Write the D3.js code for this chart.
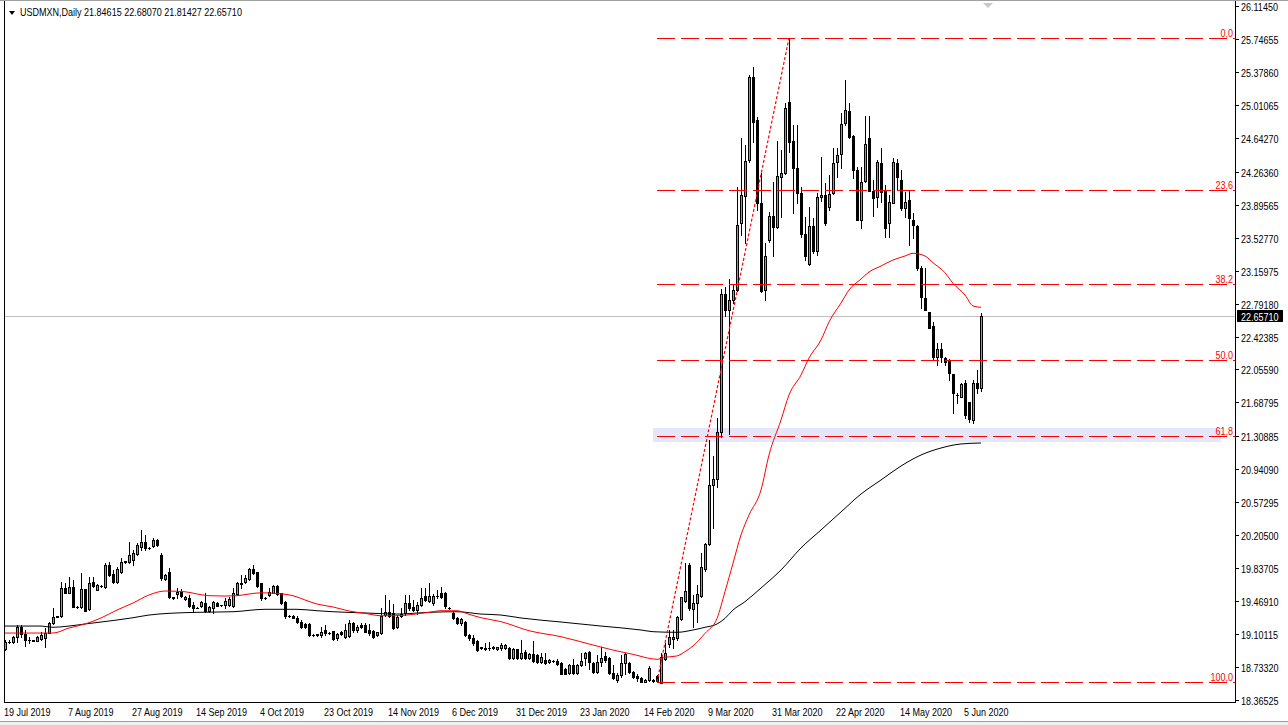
<!DOCTYPE html>
<html><head><meta charset="utf-8">
<script src="https://cdn.jsdelivr.net/npm/d3@7"></script>
<style>
html,body{margin:0;padding:0;background:#fff;}
svg{display:block;}
text{font-family:"Liberation Sans",Arial,sans-serif;}
</style></head><body>
<svg id="c" width="1288" height="725"></svg>
<script>
const symbolName = "USDMXN,Daily";
const headerValues = ["21.84615","22.68070","21.81427","22.65710"];

const opens = [
18.931,19.016,19.016,19.065,19.177,19.098,19.035,19.030,19.028,19.042,
19.054,19.117,19.221,19.296,19.303,19.612,19.564,19.631,19.400,19.400,
19.605,19.377,19.679,19.593,19.640,19.630,19.872,19.772,19.679,19.800,
19.910,19.910,19.928,19.990,20.077,20.133,20.059,20.085,20.152,19.984,
19.712,19.800,19.510,19.545,19.567,19.489,19.508,19.426,19.396,19.418,
19.452,19.362,19.396,19.452,19.426,19.426,19.426,19.418,19.545,19.675,
19.686,19.716,19.828,19.790,19.668,19.500,19.537,19.563,19.638,19.556,
19.463,19.303,19.303,19.277,19.240,19.210,19.210,19.091,19.098,19.091,
19.147,19.110,19.135,19.054,19.128,19.072,19.084,19.221,19.147,19.203,
19.203,19.147,19.135,19.091,19.110,19.314,19.344,19.333,19.184,19.300,
19.333,19.445,19.400,19.370,19.426,19.530,19.471,19.445,19.530,19.556,
19.556,19.389,19.340,19.285,19.229,19.240,19.091,19.054,19.024,18.950,
18.950,18.942,18.961,18.935,18.942,18.950,18.950,18.830,18.930,18.830,
18.900,18.830,18.880,18.870,18.790,18.810,18.787,18.800,18.805,18.780,
18.710,18.670,18.757,18.670,18.757,18.830,18.905,18.782,18.682,18.793,
18.857,18.830,18.663,18.590,18.645,18.775,18.775,18.680,18.630,18.607,
18.570,18.590,18.590,18.633,18.559,18.819,18.987,19.050,19.054,19.266,
19.474,19.873,19.378,19.445,19.527,19.824,20.107,20.766,20.829,21.361,
22.900,22.720,22.832,22.943,23.688,23.996,24.395,25.325,24.840,23.918,
22.943,23.502,23.770,23.650,24.209,24.246,25.046,24.610,24.309,24.030,
23.569,23.230,23.658,23.383,23.978,24.004,23.874,24.030,24.376,24.462,
24.804,24.942,24.663,24.283,23.725,24.164,24.641,24.053,23.978,24.358,
24.049,23.688,23.919,24.365,24.172,23.855,23.950,23.725,23.658,23.185,
22.850,22.694,22.541,22.199,22.281,22.180,22.162,22.005,21.770,21.745,
21.901,21.696,21.492,21.909,21.846];

const highs = [
19.035,19.030,19.080,19.203,19.203,19.147,19.072,19.040,19.080,19.128,
19.165,19.240,19.389,19.300,19.686,19.668,19.742,19.705,19.410,19.780,
19.610,19.742,19.742,19.660,19.650,19.899,19.910,19.817,19.854,19.947,
19.920,20.133,20.040,20.114,20.263,20.207,20.070,20.170,20.160,20.003,
19.770,19.840,19.520,19.612,19.600,19.530,19.537,19.463,19.400,19.470,
19.556,19.420,19.470,19.460,19.430,19.500,19.510,19.612,19.686,19.761,
19.761,19.843,19.872,19.800,19.668,19.510,19.612,19.649,19.649,19.560,
19.470,19.310,19.310,19.300,19.258,19.220,19.221,19.100,19.105,19.184,
19.202,19.120,19.140,19.110,19.140,19.210,19.258,19.240,19.200,19.220,
19.220,19.210,19.150,19.130,19.389,19.538,19.482,19.433,19.310,19.389,
19.538,19.538,19.482,19.463,19.612,19.612,19.668,19.545,19.593,19.631,
19.575,19.400,19.350,19.290,19.285,19.250,19.100,19.091,19.030,18.960,
18.998,19.017,18.970,18.960,18.998,18.990,18.960,18.950,18.940,19.030,
18.920,18.890,19.020,18.880,18.886,18.886,18.820,18.810,18.820,18.785,
18.720,18.770,18.820,18.770,18.886,18.905,18.917,18.790,18.868,18.953,
18.905,18.849,18.756,18.663,18.868,18.895,18.790,18.690,18.660,18.620,
18.600,18.750,18.600,18.644,18.886,18.998,19.147,19.147,19.303,19.519,
19.899,19.899,19.538,19.650,20.003,20.122,21.268,21.090,21.510,22.950,
22.980,23.070,23.000,24.097,24.637,24.562,25.344,25.437,24.879,24.246,
23.464,23.818,24.153,24.610,24.507,25.035,25.757,24.786,24.786,24.097,
23.762,23.874,23.743,24.030,24.432,24.134,24.227,24.525,24.525,24.916,
25.288,25.028,24.674,24.321,24.321,24.886,24.886,24.172,24.395,24.533,
24.116,24.004,24.414,24.403,24.283,24.041,24.060,23.800,23.669,23.211,
23.185,22.694,22.590,22.348,22.348,22.199,22.170,22.005,21.790,21.900,
21.938,21.696,21.938,22.050,22.681];

const lows = [
18.923,19.000,19.000,19.016,19.072,18.968,19.005,19.020,19.020,19.035,
18.953,19.110,19.214,19.290,19.296,19.556,19.556,19.400,19.390,19.389,
19.360,19.370,19.630,19.590,19.630,19.612,19.753,19.668,19.668,19.780,
19.900,19.891,19.872,19.984,20.040,20.040,20.050,20.077,20.090,19.705,
19.700,19.500,19.490,19.500,19.520,19.480,19.407,19.351,19.390,19.407,
19.344,19.350,19.333,19.410,19.420,19.388,19.420,19.407,19.537,19.612,
19.668,19.705,19.768,19.630,19.480,19.490,19.530,19.556,19.537,19.440,
19.277,19.295,19.280,19.221,19.173,19.170,19.083,19.085,19.085,19.072,
19.091,19.100,19.030,19.040,19.090,19.061,19.072,19.120,19.120,19.170,
19.120,19.090,19.060,19.080,19.098,19.300,19.296,19.158,19.170,19.296,
19.314,19.370,19.359,19.322,19.418,19.471,19.463,19.430,19.500,19.500,
19.396,19.380,19.270,19.210,19.203,19.080,19.040,18.980,18.910,18.940,
18.924,18.924,18.930,18.925,18.924,18.940,18.820,18.820,18.820,18.820,
18.820,18.820,18.790,18.780,18.775,18.770,18.780,18.790,18.760,18.650,
18.650,18.660,18.655,18.660,18.745,18.757,18.708,18.670,18.670,18.745,
18.793,18.656,18.596,18.570,18.626,18.660,18.670,18.610,18.580,18.566,
18.566,18.575,18.566,18.566,18.566,18.810,18.961,18.942,19.035,19.258,
19.463,19.370,19.184,19.240,19.519,19.809,20.096,20.282,20.740,21.300,
22.650,21.330,22.800,22.930,23.557,23.464,24.376,24.600,23.837,22.925,
22.832,23.483,23.323,23.640,23.762,24.238,24.488,23.800,23.910,23.539,
23.278,23.222,23.353,23.334,23.940,23.669,23.836,24.015,24.209,24.302,
24.786,24.637,24.190,23.725,23.632,24.153,24.053,23.773,23.874,23.930,
23.539,23.539,23.911,24.060,23.837,23.762,23.446,23.520,23.167,22.739,
22.720,22.515,22.162,22.106,22.143,22.106,21.938,21.566,21.678,21.745,
21.510,21.473,21.462,21.790,21.814];

const closes = [
19.016,19.012,19.072,19.177,19.098,19.035,19.030,19.028,19.072,19.091,
19.117,19.221,19.296,19.298,19.612,19.564,19.623,19.400,19.402,19.605,
19.363,19.668,19.638,19.649,19.642,19.872,19.761,19.686,19.824,19.910,
19.912,19.984,20.003,20.096,20.133,20.059,20.061,20.152,20.100,19.724,
19.761,19.510,19.500,19.575,19.530,19.519,19.418,19.388,19.394,19.455,
19.359,19.407,19.463,19.418,19.424,19.470,19.493,19.556,19.675,19.656,
19.731,19.828,19.779,19.638,19.500,19.502,19.567,19.638,19.545,19.444,
19.303,19.301,19.284,19.240,19.184,19.176,19.091,19.093,19.091,19.128,
19.110,19.112,19.042,19.098,19.098,19.147,19.221,19.150,19.184,19.184,
19.128,19.110,19.072,19.121,19.307,19.344,19.307,19.165,19.296,19.325,
19.445,19.389,19.370,19.426,19.508,19.482,19.530,19.530,19.532,19.519,
19.415,19.387,19.277,19.221,19.266,19.091,19.054,18.998,18.924,18.952,
18.935,18.944,18.942,18.955,18.980,18.975,18.830,18.930,18.830,18.890,
18.830,18.880,18.800,18.790,18.840,18.775,18.812,18.802,18.770,18.660,
18.660,18.757,18.663,18.757,18.800,18.886,18.793,18.682,18.793,18.830,
18.812,18.663,18.607,18.645,18.775,18.880,18.680,18.626,18.607,18.570,
18.590,18.720,18.575,18.575,18.849,18.886,19.072,19.072,19.288,19.512,
19.586,19.389,19.452,19.545,19.854,20.107,20.766,20.829,21.361,22.900,
22.720,22.832,22.943,23.670,24.004,24.384,25.325,24.823,23.910,22.936,
23.323,23.770,23.650,24.220,24.253,24.979,24.600,24.302,24.023,23.569,
23.327,23.662,23.383,23.985,24.004,23.688,24.015,24.358,24.451,24.797,
24.953,24.656,24.283,23.725,24.153,24.574,24.053,23.967,24.373,24.041,
23.640,23.930,24.373,24.202,23.855,23.930,23.743,23.669,23.185,22.869,
22.720,22.523,22.199,22.281,22.191,22.143,22.020,21.790,21.770,21.894,
21.548,21.499,21.901,21.846,22.657];

// moving averages: [bar index, price]
const maRed = [[0,19.113],[12,19.113],[16,19.169],[20,19.214],[24,19.281],[28,19.37],[32,19.448],[36,19.538],[40,19.582],[45,19.574],[48,19.549],[51,19.53],[55,19.526],[58,19.53],[61,19.549],[64,19.562],[67,19.557],[72,19.53],[75,19.482],[78,19.437],[82,19.404],[86,19.359],[90,19.333],[94,19.306],[98,19.306],[102,19.322],[106,19.344],[109,19.362],[113,19.362],[116,19.322],[119,19.284],[124,19.24],[131,19.139],[139,19.072],[147,18.979],[152,18.923],[157,18.875],[163,18.82],[165,18.842],[168,18.857],[170,18.905],[172,18.968],[175,19.11],[178,19.277],[180,19.575],[182,19.892],[184,20.208],[186,20.431],[189,20.71],[191,21.101],[194,21.492],[196,21.771],[199,21.994],[201,22.184],[204,22.385],[206,22.586],[209,22.798],[211,22.943],[214,23.066],[216,23.144],[219,23.211],[222,23.278],[225,23.323],[227,23.353],[230,23.323],[232,23.248],[235,23.136],[237,23.018],[240,22.887],[242,22.765],[244,22.75]];
const maBlack = [[0,19.191],[9,19.191],[12,19.177],[16,19.191],[20,19.214],[26,19.247],[32,19.284],[36,19.314],[41,19.333],[48,19.344],[57,19.351],[65,19.378],[73,19.378],[78,19.362],[82,19.351],[90,19.337],[98,19.325],[106,19.344],[113,19.351],[119,19.325],[124,19.314],[129,19.281],[139,19.236],[149,19.191],[159,19.147],[162,19.128],[168,19.121],[172,19.147],[175,19.177],[178,19.214],[180,19.277],[182,19.37],[185,19.463],[189,19.616],[194,19.817],[199,20.063],[204,20.264],[209,20.465],[214,20.665],[219,20.822],[224,20.978],[229,21.101],[234,21.179],[239,21.224],[244,21.235]];

const dateLabels = ["19 Jul 2019","7 Aug 2019","27 Aug 2019","14 Sep 2019","4 Oct 2019","23 Oct 2019","14 Nov 2019","6 Dec 2019","31 Dec 2019","23 Jan 2020","14 Feb 2020","9 Mar 2020","31 Mar 2020","22 Apr 2020","14 May 2020","5 Jun 2020"];
const dateLabelBars = [0,16,32,48,64,80,96,112,128,144,160,176,192,208,224,240];
const priceTicks = [26.11450,25.74655,25.37860,25.01065,24.64270,24.26360,23.89565,23.52770,23.15975,22.79180,22.42385,22.05590,21.68795,21.30885,20.94090,20.57295,20.20500,19.83705,19.46910,19.10115,18.73320,18.36525];

const fibLevels = [0, 23.6, 38.2, 50, 61.8, 100];
const fibHigh = 25.757, fibLow = 18.566;
const fibLowBar = 163, fibHighBar = 196;
const zonePrices = [21.402, 21.246];
const zoneBars = [162, 304];
const lastPrice = 22.65710;

// ---------- layout ----------
const L = 4, R = 1235, T = 1, B = 702;
const SX = 0.82; // horizontal squeeze to mimic the narrow terminal font
const svg = d3.select("#c");
const x = d3.scaleLinear().domain([0, 244]).range([5, 981]);
const y = d3.scaleLinear().domain([18.36525, 26.1145]).range([700, 6]);
const fmt = d3.format(".5f");

function label(g, px, py, str, color, anchor) {
  return g.append("text")
    .attr("transform", `translate(${px},${py}) scale(${SX},1)`)
    .attr("text-anchor", anchor || "start")
    .attr("font-size", "11px").attr("fill", color || "#000").text(str);
}

svg.append("rect").attr("width",1288).attr("height",725).attr("fill","#fff");
svg.append("defs").append("clipPath").attr("id","plot")
  .append("rect").attr("x",L+1).attr("y",T+1).attr("width",R-L-1).attr("height",B-T-1);
const plot = svg.append("g").attr("clip-path","url(#plot)").attr("shape-rendering","crispEdges");

// zone rectangle
plot.append("rect")
  .attr("x", Math.round(x(zoneBars[0])))
  .attr("width", Math.round(x(zoneBars[1])) - Math.round(x(zoneBars[0])))
  .attr("y", Math.round(y(zonePrices[0])))
  .attr("height", Math.round(y(zonePrices[1])) - Math.round(y(zonePrices[0])))
  .attr("fill", "#e6e6fa");

// current price line
plot.append("line").attr("x1",L).attr("x2",R)
  .attr("y1",Math.round(y(lastPrice))+0.5).attr("y2",Math.round(y(lastPrice))+0.5)
  .attr("stroke","#c0c0c0").attr("stroke-width",1);

// candles
const idx = d3.range(closes.length);
const cg = plot.append("g");
idx.forEach(i => {
  const cx = Math.round(x(i));
  const yh = Math.round(y(highs[i])), yl = Math.round(y(lows[i]));
  cg.append("rect").attr("x",cx).attr("y",yh).attr("width",1).attr("height",Math.max(1,yl-yh+1)).attr("fill","#000");
  const top = Math.round(y(Math.max(opens[i],closes[i])));
  const bot = Math.round(y(Math.min(opens[i],closes[i])));
  cg.append("rect").attr("x",cx-1).attr("y",top).attr("width",3).attr("height",Math.max(1,bot-top+1)).attr("fill","#000");
  if (closes[i] > opens[i] && bot - top >= 2) {
    cg.append("rect").attr("x",cx).attr("y",top+1).attr("width",1).attr("height",bot-top-1).attr("fill","#00ff00");
  }
});

// moving averages
const maLine = d3.line().x(d => x(d[0])).y(d => y(d[1])).curve(d3.curveMonotoneX);
const mg = svg.append("g").attr("clip-path","url(#plot)");
mg.append("path").attr("d", maLine(maBlack)).attr("fill","none").attr("stroke","#000").attr("stroke-width",1);
mg.append("path").attr("d", maLine(maRed)).attr("fill","none").attr("stroke","#ff0000").attr("stroke-width",1);

// fibonacci
const fg = svg.append("g").attr("clip-path","url(#plot)");
const fibX0 = Math.round(x(fibLowBar));
fibLevels.forEach(lv => {
  const p = fibHigh - (fibHigh - fibLow) * lv / 100;
  const yy = Math.round(y(p));
  fg.append("line").attr("x1",fibX0).attr("x2",R).attr("y1",yy+0.5).attr("y2",yy+0.5)
    .attr("stroke","#ff0000").attr("stroke-width",1).attr("stroke-dasharray","18,6")
    .attr("shape-rendering","crispEdges");
  label(svg, R-2, yy-1, lv.toFixed(1), "#ff0000", "end");
});
fg.append("line")
  .attr("x1", x(fibLowBar)).attr("y1", y(fibLow))
  .attr("x2", x(fibHighBar)).attr("y2", y(fibHigh))
  .attr("stroke","#ff0000").attr("stroke-width",1.2).attr("stroke-dasharray","3,2");

// frame
const fr = svg.append("g").attr("shape-rendering","crispEdges");
fr.append("line").attr("x1",0).attr("x2",1288).attr("y1",0.5).attr("y2",0.5).attr("stroke","#a0a0a0");
fr.append("line").attr("x1",L+0.5).attr("x2",L+0.5).attr("y1",T).attr("y2",B+1).attr("stroke","#000");
fr.append("line").attr("x1",R+0.5).attr("x2",R+0.5).attr("y1",T).attr("y2",B+1).attr("stroke","#000");
fr.append("line").attr("x1",L).attr("x2",R+1).attr("y1",B+0.5).attr("y2",B+0.5).attr("stroke","#000");
fr.append("rect").attr("x",0).attr("y",721).attr("width",1288).attr("height",4).attr("fill","#f0f0f0");
fr.append("line").attr("x1",0).attr("x2",1288).attr("y1",721.5).attr("y2",721.5).attr("stroke","#a0a0a0");

// price axis
const pa = svg.append("g");
priceTicks.forEach(v => {
  const yy = Math.round(y(v)) + 0.5;
  pa.append("line").attr("x1",R).attr("x2",R+4).attr("y1",yy).attr("y2",yy).attr("stroke","#000").attr("shape-rendering","crispEdges");
  label(pa, R+6, yy+4, fmt(v));
});
// last price label
const ly = Math.round(y(lastPrice));
pa.append("rect").attr("x",R+2).attr("y",ly-6).attr("width",46).attr("height",12).attr("fill","#000");
label(pa, R+6, ly+4.5, fmt(lastPrice), "#fff");

// time axis
const ta = svg.append("g");
dateLabels.forEach((d, k) => {
  const xx = Math.round(x(dateLabelBars[k]));
  label(ta, xx - 1, 716, d);
});

// header
svg.append("path").attr("d","M9,11 L15,11 L12,15 Z").attr("fill","#000");
label(svg, 20, 16, symbolName + "  " + headerValues.join(" "));
// chart shift marker
svg.append("path").attr("d","M983,3 L993,3 L988,8 Z").attr("fill","#c8c8c8");
</script>
</body></html>
